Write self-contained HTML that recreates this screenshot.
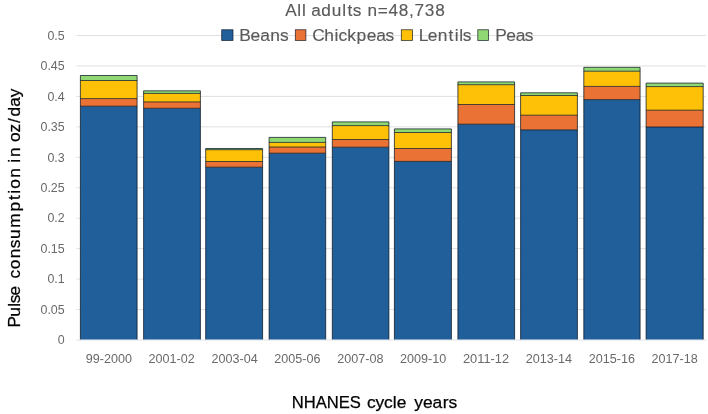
<!DOCTYPE html>
<html><head><meta charset="utf-8"><title>Pulse consumption chart</title>
<style>
html,body{margin:0;padding:0;background:#fff;}
body{width:708px;height:414px;overflow:hidden;}
svg{display:block;font-family:"Liberation Sans",sans-serif;}
</style></head><body>
<svg width="708" height="414" viewBox="0 0 708 414">
<rect width="708" height="414" fill="#fff"/>
<line x1="76.5" x2="705.8" y1="340.00" y2="340.00" stroke="#e0e0e0" stroke-width="1"/>
<line x1="76.5" x2="705.8" y1="309.55" y2="309.55" stroke="#e0e0e0" stroke-width="1"/>
<line x1="76.5" x2="705.8" y1="279.10" y2="279.10" stroke="#e0e0e0" stroke-width="1"/>
<line x1="76.5" x2="705.8" y1="248.65" y2="248.65" stroke="#e0e0e0" stroke-width="1"/>
<line x1="76.5" x2="705.8" y1="218.20" y2="218.20" stroke="#e0e0e0" stroke-width="1"/>
<line x1="76.5" x2="705.8" y1="187.75" y2="187.75" stroke="#e0e0e0" stroke-width="1"/>
<line x1="76.5" x2="705.8" y1="157.30" y2="157.30" stroke="#e0e0e0" stroke-width="1"/>
<line x1="76.5" x2="705.8" y1="126.85" y2="126.85" stroke="#e0e0e0" stroke-width="1"/>
<line x1="76.5" x2="705.8" y1="96.40" y2="96.40" stroke="#e0e0e0" stroke-width="1"/>
<line x1="76.5" x2="705.8" y1="65.95" y2="65.95" stroke="#e0e0e0" stroke-width="1"/>
<line x1="76.5" x2="705.8" y1="35.50" y2="35.50" stroke="#e0e0e0" stroke-width="1"/>
<rect x="80.40" y="106.20" width="56.70" height="233.80" fill="#215f9b"/>
<rect x="80.40" y="98.60" width="56.70" height="7.60" fill="#ea7234"/>
<rect x="80.40" y="80.50" width="56.70" height="18.10" fill="#fec107"/>
<rect x="80.40" y="75.50" width="56.70" height="5.00" fill="#90d873"/>
<path d="M80.40 340.0 V75.50 H137.10 V340.0 M80.40 80.50 H137.10 M80.40 98.60 H137.10 M80.40 106.20 H137.10" fill="none" stroke="#06101c" stroke-opacity="0.85" stroke-width="0.85"/>
<rect x="143.60" y="108.30" width="56.80" height="231.70" fill="#215f9b"/>
<rect x="143.60" y="101.90" width="56.80" height="6.40" fill="#ea7234"/>
<rect x="143.60" y="93.40" width="56.80" height="8.50" fill="#fec107"/>
<rect x="143.60" y="90.80" width="56.80" height="2.60" fill="#90d873"/>
<path d="M143.60 340.0 V90.80 H200.40 V340.0 M143.60 93.40 H200.40 M143.60 101.90 H200.40 M143.60 108.30 H200.40" fill="none" stroke="#06101c" stroke-opacity="0.85" stroke-width="0.85"/>
<rect x="205.70" y="167.20" width="56.90" height="172.80" fill="#215f9b"/>
<rect x="205.70" y="161.50" width="56.90" height="5.70" fill="#ea7234"/>
<rect x="205.70" y="149.70" width="56.90" height="11.80" fill="#fec107"/>
<rect x="205.70" y="148.50" width="56.90" height="1.20" fill="#90d873"/>
<path d="M205.70 340.0 V148.50 H262.60 V340.0 M205.70 149.70 H262.60 M205.70 161.50 H262.60 M205.70 167.20 H262.60" fill="none" stroke="#06101c" stroke-opacity="0.85" stroke-width="0.85"/>
<rect x="269.10" y="153.20" width="56.60" height="186.80" fill="#215f9b"/>
<rect x="269.10" y="147.00" width="56.60" height="6.20" fill="#ea7234"/>
<rect x="269.10" y="142.40" width="56.60" height="4.60" fill="#fec107"/>
<rect x="269.10" y="137.40" width="56.60" height="5.00" fill="#90d873"/>
<path d="M269.10 340.0 V137.40 H325.70 V340.0 M269.10 142.40 H325.70 M269.10 147.00 H325.70 M269.10 153.20 H325.70" fill="none" stroke="#06101c" stroke-opacity="0.85" stroke-width="0.85"/>
<rect x="332.30" y="147.20" width="56.60" height="192.80" fill="#215f9b"/>
<rect x="332.30" y="139.50" width="56.60" height="7.70" fill="#ea7234"/>
<rect x="332.30" y="125.60" width="56.60" height="13.90" fill="#fec107"/>
<rect x="332.30" y="121.90" width="56.60" height="3.70" fill="#90d873"/>
<path d="M332.30 340.0 V121.90 H388.90 V340.0 M332.30 125.60 H388.90 M332.30 139.50 H388.90 M332.30 147.20 H388.90" fill="none" stroke="#06101c" stroke-opacity="0.85" stroke-width="0.85"/>
<rect x="394.40" y="161.40" width="57.00" height="178.60" fill="#215f9b"/>
<rect x="394.40" y="148.50" width="57.00" height="12.90" fill="#ea7234"/>
<rect x="394.40" y="132.50" width="57.00" height="16.00" fill="#fec107"/>
<rect x="394.40" y="128.90" width="57.00" height="3.60" fill="#90d873"/>
<path d="M394.40 340.0 V128.90 H451.40 V340.0 M394.40 132.50 H451.40 M394.40 148.50 H451.40 M394.40 161.40 H451.40" fill="none" stroke="#06101c" stroke-opacity="0.85" stroke-width="0.85"/>
<rect x="457.90" y="124.20" width="56.70" height="215.80" fill="#215f9b"/>
<rect x="457.90" y="104.50" width="56.70" height="19.70" fill="#ea7234"/>
<rect x="457.90" y="84.70" width="56.70" height="19.80" fill="#fec107"/>
<rect x="457.90" y="81.90" width="56.70" height="2.80" fill="#90d873"/>
<path d="M457.90 340.0 V81.90 H514.60 V340.0 M457.90 84.70 H514.60 M457.90 104.50 H514.60 M457.90 124.20 H514.60" fill="none" stroke="#06101c" stroke-opacity="0.85" stroke-width="0.85"/>
<rect x="520.60" y="129.90" width="56.80" height="210.10" fill="#215f9b"/>
<rect x="520.60" y="115.20" width="56.80" height="14.70" fill="#ea7234"/>
<rect x="520.60" y="95.50" width="56.80" height="19.70" fill="#fec107"/>
<rect x="520.60" y="92.80" width="56.80" height="2.70" fill="#90d873"/>
<path d="M520.60 340.0 V92.80 H577.40 V340.0 M520.60 95.50 H577.40 M520.60 115.20 H577.40 M520.60 129.90 H577.40" fill="none" stroke="#06101c" stroke-opacity="0.85" stroke-width="0.85"/>
<rect x="583.80" y="99.60" width="56.30" height="240.40" fill="#215f9b"/>
<rect x="583.80" y="86.40" width="56.30" height="13.20" fill="#ea7234"/>
<rect x="583.80" y="71.20" width="56.30" height="15.20" fill="#fec107"/>
<rect x="583.80" y="67.30" width="56.30" height="3.90" fill="#90d873"/>
<path d="M583.80 340.0 V67.30 H640.10 V340.0 M583.80 71.20 H640.10 M583.80 86.40 H640.10 M583.80 99.60 H640.10" fill="none" stroke="#06101c" stroke-opacity="0.85" stroke-width="0.85"/>
<rect x="646.10" y="127.00" width="57.10" height="213.00" fill="#215f9b"/>
<rect x="646.10" y="110.20" width="57.10" height="16.80" fill="#ea7234"/>
<rect x="646.10" y="86.60" width="57.10" height="23.60" fill="#fec107"/>
<rect x="646.10" y="83.10" width="57.10" height="3.50" fill="#90d873"/>
<path d="M646.10 340.0 V83.10 H703.20 V340.0 M646.10 86.60 H703.20 M646.10 110.20 H703.20 M646.10 127.00 H703.20" fill="none" stroke="#06101c" stroke-opacity="0.85" stroke-width="0.85"/>
<line x1="76.5" x2="706.5" y1="340.1" y2="340.1" stroke="#eef1f5" stroke-width="1.2"/>
<text x="64.7" y="344.20" text-anchor="end" font-size="12.2" fill="#696969" textLength="6.9" lengthAdjust="spacingAndGlyphs">0</text>
<text x="64.7" y="313.75" text-anchor="end" font-size="12.2" fill="#696969" textLength="24.2" lengthAdjust="spacingAndGlyphs">0.05</text>
<text x="64.7" y="283.30" text-anchor="end" font-size="12.2" fill="#696969" textLength="17.3" lengthAdjust="spacingAndGlyphs">0.1</text>
<text x="64.7" y="252.85" text-anchor="end" font-size="12.2" fill="#696969" textLength="24.2" lengthAdjust="spacingAndGlyphs">0.15</text>
<text x="64.7" y="222.40" text-anchor="end" font-size="12.2" fill="#696969" textLength="17.3" lengthAdjust="spacingAndGlyphs">0.2</text>
<text x="64.7" y="191.95" text-anchor="end" font-size="12.2" fill="#696969" textLength="24.2" lengthAdjust="spacingAndGlyphs">0.25</text>
<text x="64.7" y="161.50" text-anchor="end" font-size="12.2" fill="#696969" textLength="17.3" lengthAdjust="spacingAndGlyphs">0.3</text>
<text x="64.7" y="131.05" text-anchor="end" font-size="12.2" fill="#696969" textLength="24.2" lengthAdjust="spacingAndGlyphs">0.35</text>
<text x="64.7" y="100.60" text-anchor="end" font-size="12.2" fill="#696969" textLength="17.3" lengthAdjust="spacingAndGlyphs">0.4</text>
<text x="64.7" y="70.15" text-anchor="end" font-size="12.2" fill="#696969" textLength="24.2" lengthAdjust="spacingAndGlyphs">0.45</text>
<text x="64.7" y="39.70" text-anchor="end" font-size="12.2" fill="#696969" textLength="17.3" lengthAdjust="spacingAndGlyphs">0.5</text>
<text x="108.85" y="362.8" text-anchor="middle" font-size="12" fill="#696969" textLength="46.2" lengthAdjust="spacingAndGlyphs">99-2000</text>
<text x="171.72" y="362.8" text-anchor="middle" font-size="12" fill="#696969" textLength="46.2" lengthAdjust="spacingAndGlyphs">2001-02</text>
<text x="234.59" y="362.8" text-anchor="middle" font-size="12" fill="#696969" textLength="46.2" lengthAdjust="spacingAndGlyphs">2003-04</text>
<text x="297.46" y="362.8" text-anchor="middle" font-size="12" fill="#696969" textLength="46.2" lengthAdjust="spacingAndGlyphs">2005-06</text>
<text x="360.33" y="362.8" text-anchor="middle" font-size="12" fill="#696969" textLength="46.2" lengthAdjust="spacingAndGlyphs">2007-08</text>
<text x="423.20" y="362.8" text-anchor="middle" font-size="12" fill="#696969" textLength="46.2" lengthAdjust="spacingAndGlyphs">2009-10</text>
<text x="486.07" y="362.8" text-anchor="middle" font-size="12" fill="#696969" textLength="46.2" lengthAdjust="spacingAndGlyphs">2011-12</text>
<text x="548.94" y="362.8" text-anchor="middle" font-size="12" fill="#696969" textLength="46.2" lengthAdjust="spacingAndGlyphs">2013-14</text>
<text x="611.81" y="362.8" text-anchor="middle" font-size="12" fill="#696969" textLength="46.2" lengthAdjust="spacingAndGlyphs">2015-16</text>
<text x="674.68" y="362.8" text-anchor="middle" font-size="12" fill="#696969" textLength="46.2" lengthAdjust="spacingAndGlyphs">2017-18</text>
<text y="15.5" font-size="17.2" fill="#5a5a5a" stroke="#5a5a5a" stroke-width="0.15"><tspan x="285.22 297.36 302.08">All</tspan><tspan x="307.13 311.13 321.21 331.76 342.22 347.40 352.78"> adults</tspan><tspan x="363.52 367.52 377.82 388.40 398.83 409.01 414.40 424.84 435.27"> n=48,738</tspan></text>
<rect x="221.70" y="29.75" width="11.30" height="10.75" fill="#215f9b" stroke="#06101c" stroke-opacity="0.8" stroke-width="0.8"/>
<text x="239.22 250.58 260.32 270.34 279.97" y="40.5" font-size="17.4" fill="#5a5a5a" stroke="#5a5a5a" stroke-width="0.15">Beans</text>
<rect x="295.30" y="29.75" width="10.60" height="10.75" fill="#ea7234" stroke="#06101c" stroke-opacity="0.8" stroke-width="0.8"/>
<text x="312.29 324.21 334.58 338.62 347.30 356.51 366.63 376.29 385.39" y="40.5" font-size="17.4" fill="#5a5a5a" stroke="#5a5a5a" stroke-width="0.15">Chickpeas</text>
<rect x="401.30" y="29.75" width="11.20" height="10.75" fill="#fec107" stroke="#06101c" stroke-opacity="0.8" stroke-width="0.8"/>
<text x="418.69 427.70 437.74 448.61 454.64 459.14 462.82" y="40.5" font-size="17.4" fill="#5a5a5a" stroke="#5a5a5a" stroke-width="0.15">Lentils</text>
<rect x="477.80" y="29.75" width="10.80" height="10.75" fill="#90d873" stroke="#06101c" stroke-opacity="0.8" stroke-width="0.8"/>
<text x="495.26 506.16 515.72 524.73" y="40.5" font-size="17.4" fill="#5a5a5a" stroke="#5a5a5a" stroke-width="0.15">Peas</text>
<text y="407.6" font-size="17.4" fill="#000" stroke="#000" stroke-width="0.25"><tspan x="291.80" textLength="69.13" lengthAdjust="spacingAndGlyphs">NHANES</tspan><tspan x="362.95 366.95 375.45 383.95 392.69 396.84"> cycle</tspan><tspan x="410.28 414.28 423.08 432.62 442.66 448.44"> years</tspan></text>
<text transform="translate(20.0 0) rotate(-90)" y="0" font-size="17.3" fill="#000" stroke="#000" stroke-width="0.25"><tspan x="-327.43 -316.70 -306.73 -303.32 -295.47">Pulse</tspan><tspan x="-282.61 -278.61 -269.18 -258.19 -248.14 -239.06 -227.63 -211.42 -200.03 -193.66 -188.65 -177.66"> consumption</tspan><tspan x="-166.64 -162.64 -157.04"> in</tspan><tspan x="-146.07 -142.07 -132.59 -123.05 -116.57 -106.78 -97.21"> oz/day</tspan></text>
</svg>
</body></html>
